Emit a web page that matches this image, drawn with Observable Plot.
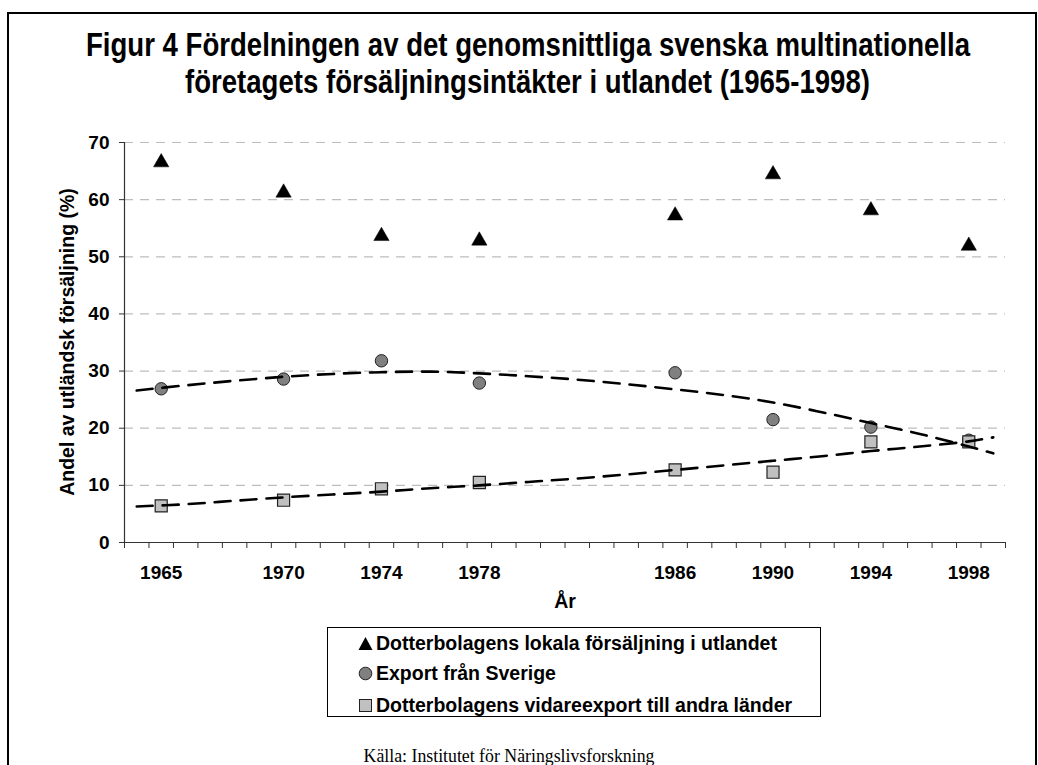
<!DOCTYPE html>
<html>
<head>
<meta charset="utf-8">
<script src="https://cdn.jsdelivr.net/npm/d3@7"></script>
<script src="https://cdn.jsdelivr.net/npm/@observablehq/plot@0.6"></script>
<style>
  html, body { margin: 0; padding: 0; background: #fff; }
  #wrap { position: relative; width: 1038px; height: 765px; overflow: hidden; background: #fff; }
  #frame { position: absolute; left: 7px; top: 12px; width: 1030px; height: 820px; border: 2px solid #000; box-sizing: border-box; }
  .abs { position: absolute; white-space: nowrap; }
  .tline { font-family: "Liberation Sans", Arial, sans-serif; font-weight: bold; font-size: 34px; line-height: 34px; color: #000; transform-origin: 0 50%; }
  #ylabel { left: 67px; top: 342px; transform: translate(-50%, -50%) rotate(-90deg);
    font-family: "Liberation Sans", Arial, sans-serif; font-weight: bold; font-size: 19.5px; line-height: 20px; color: #000; }
  #xlabel { left: 565px; top: 601px; transform: translate(-50%, -50%);
    font-family: "Liberation Sans", Arial, sans-serif; font-weight: bold; font-size: 19.5px; line-height: 20px; color: #000; }
  #legend { position: absolute; left: 327px; top: 627px; width: 494px; height: 90px; border: 1px solid #000; box-sizing: border-box; background: #fff;
    font-family: "Liberation Sans", Arial, sans-serif; font-weight: bold; font-size: 19.5px; color: #000; }
  .row { position: absolute; left: 30px; height: 22px; line-height: 22px; display: flex; align-items: center; }
  .row svg { margin-right: 3px; }
  #source { left: 509px; top: 748px; transform: translateX(-50%);
    font-family: "Liberation Serif", "DejaVu Serif", serif; font-size: 17.8px; line-height: 1; color: #000; }
  #chart { position: absolute; left: 0; top: 0; }
</style>
</head>
<body>
<div id="wrap">
  <div id="frame"></div>
  <div id="chart"></div>
  <div id="t1" class="abs tline">Figur 4 Fördelningen av det genomsnittliga svenska multinationella</div>
  <div id="t2" class="abs tline">företagets försäljningsintäkter i utlandet (1965-1998)</div>
  <div id="ylabel" class="abs">Andel av utländsk försäljning (%)</div>
  <div id="xlabel" class="abs">År</div>
  <div id="legend"></div>
  <div id="source" class="abs">Källa: Institutet för Näringslivsforskning</div>
</div>
<script>
// ---- data ----
const years = [1965, 1970, 1974, 1978, 1986, 1990, 1994, 1998];
const lokalForsaljning = [66.9, 61.6, 54.0, 53.2, 57.6, 64.8, 58.5, 52.3];
const exportSverige = [26.9, 28.6, 31.8, 27.9, 29.7, 21.5, 20.2, 17.9];
const vidareexport = [6.4, 7.4, 9.4, 10.5, 12.7, 12.3, 17.6, 17.6];

// trend lines
const trendYears = [1964, 1966, 1968, 1970, 1972, 1974, 1976, 1978, 1980, 1982, 1984, 1986, 1988, 1990, 1992, 1994, 1996, 1998, 1999];
const exportTrend = [26.6, 27.5, 28.3, 29.0, 29.5, 29.8, 29.9, 29.6, 29.1, 28.5, 27.7, 26.8, 25.8, 24.5, 22.8, 20.9, 19.0, 16.8, 15.6];
const vidareTrend = [6.3, 6.7, 7.3, 7.9, 8.4, 8.9, 9.5, 10.0, 10.6, 11.2, 11.9, 12.7, 13.5, 14.3, 15.1, 16.0, 16.8, 17.7, 18.4];

const xTickLabels = [1965, 1970, 1974, 1978, 1986, 1990, 1994, 1998];
const yTicks = [0, 10, 20, 30, 40, 50, 60, 70];
const seriesNames = [
  "Dotterbolagens lokala försäljning i utlandet",
  "Export från Sverige",
  "Dotterbolagens vidareexport till andra länder"
];

// ---- title layout (condensed look) ----
function fitLine(id, left, centerY, scale) {
  const el = document.getElementById(id);
  el.style.left = left + "px";
  el.style.top = (centerY - 17) + "px";
  el.style.transform = "scaleX(" + scale + ")";
}
const t1 = document.getElementById("t1");
const titleScale = 884 / t1.getBoundingClientRect().width;
fitLine("t1", 86, 44, titleScale);
const t2w = document.getElementById("t2").getBoundingClientRect().width * titleScale;
fitLine("t2", 527 - t2w / 2, 81, titleScale);

// ---- tables ----
const rows = (vals) => years.map((y, i) => ({year: y, value: vals[i]}));
const trendRows = (vals) => trendYears.map((y, i) => ({year: y, value: vals[i]}));
const xDomain = [1963.5, 1999.5];
const catBounds = d3.range(xDomain[0], xDomain[1] + 0.01, 1);

const chart = Plot.plot({
  width: 1038,
  height: 620,
  marginLeft: 124,
  marginRight: 33,
  marginTop: 142,
  marginBottom: 78,
  x: {domain: xDomain},
  y: {domain: [0, 70]},
  style: {fontFamily: "'Liberation Sans', Arial, sans-serif", fontWeight: "bold", fontSize: "19px", color: "#000", background: "transparent", overflow: "visible"},
  marks: [
    Plot.ruleY(yTicks.filter(d => d > 0), {stroke: "#bdbdbd", strokeWidth: 1.2, strokeDasharray: "9,7"}),
    Plot.axisY({ticks: yTicks, tickSize: 5, tickPadding: 10, tickFormat: d => String(d), label: null, stroke: "#333", strokeOpacity: 1}),
    Plot.axisX({ticks: catBounds, tickSize: 6, tickFormat: () => "", label: null, stroke: "#333", strokeOpacity: 1}),
    Plot.axisX({ticks: xTickLabels, tickSize: 0, tickPadding: 23, tickFormat: d => String(d), label: null}),
    Plot.ruleY([0], {stroke: "#333", strokeWidth: 1.2}),
    Plot.ruleX([xDomain[0]], {y1: 0, y2: 70, stroke: "#333", strokeWidth: 1.2}),
    Plot.dot(rows(lokalForsaljning), {x: "year", y: "value", symbol: "triangle", r: 5.7, dy: 2.2, fill: "#000", stroke: "#000", strokeWidth: 0.5}),
    Plot.dot(rows(exportSverige), {x: "year", y: "value", symbol: "circle", r: 6.2, fill: "#808080", stroke: "#222", strokeWidth: 1}),
    Plot.dot(rows(vidareexport), {x: "year", y: "value", symbol: "square", r: 6.8, fill: "#c0c0c0", stroke: "#222", strokeWidth: 1.2}),
    Plot.line(trendRows(exportTrend), {x: "year", y: "value", curve: "catmull-rom", stroke: "#000", strokeWidth: 2.6, strokeDasharray: "16,10"}),
    Plot.line(trendRows(vidareTrend), {x: "year", y: "value", curve: "catmull-rom", stroke: "#000", strokeWidth: 2.6, strokeDasharray: "16,10"})
  ]
});
document.getElementById("chart").appendChild(chart);

// ---- legend ----
const legend = document.getElementById("legend");
const symbols = [
  '<svg width="15" height="15"><path d="M7.5,1 L14.5,14 L0.5,14 Z" fill="#000"/></svg>',
  '<svg width="15" height="15"><circle cx="7.5" cy="7.5" r="6.3" fill="#808080" stroke="#222" stroke-width="1"/></svg>',
  '<svg width="15" height="15"><rect x="1.5" y="1.5" width="12" height="12" fill="#c0c0c0" stroke="#222" stroke-width="1"/></svg>'
];
const rowCenters = [643, 673, 705];
seriesNames.forEach((name, i) => {
  const r = document.createElement("div");
  r.className = "row";
  r.style.top = (rowCenters[i] - 627 - 1 - 11) + "px";
  r.innerHTML = symbols[i] + "<span>" + name + "</span>";
  legend.appendChild(r);
});
</script>
</body>
</html>
